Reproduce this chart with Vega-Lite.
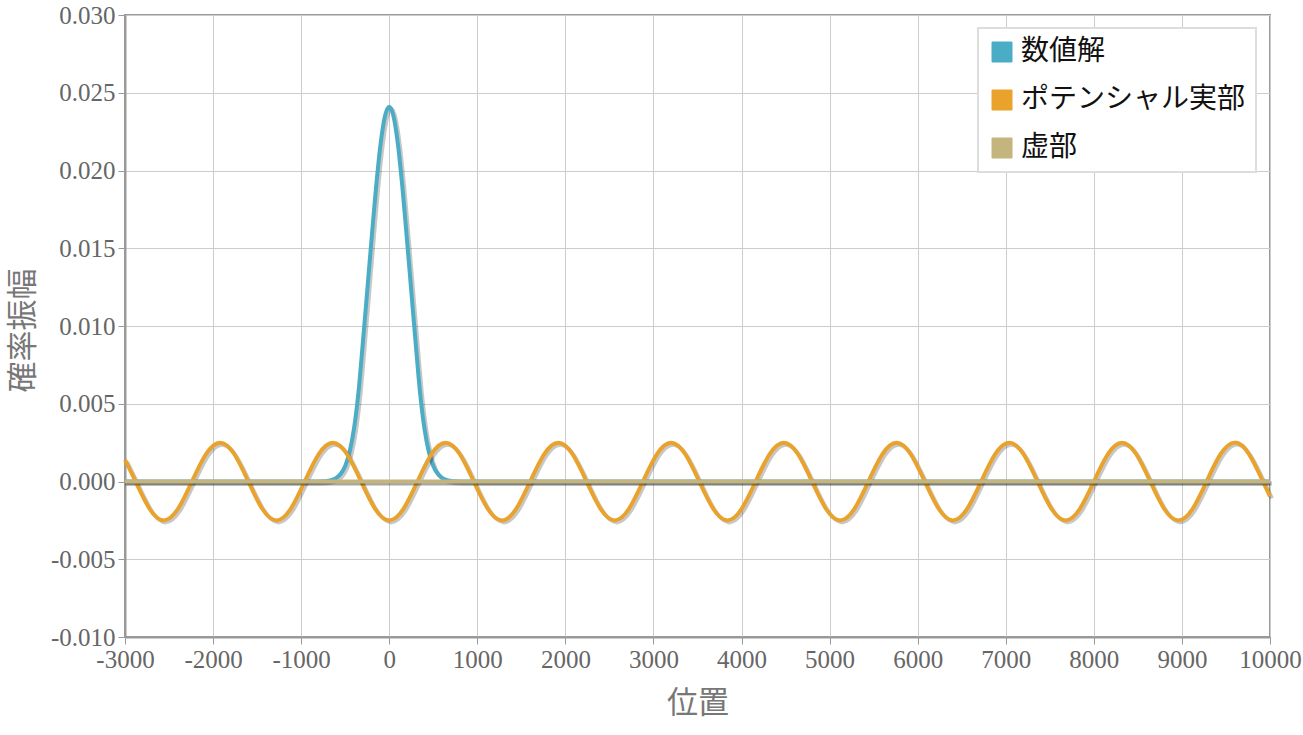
{
  "$schema": "https://vega.github.io/schema/vega-lite/v6.json",
  "width": 1145,
  "height": 622,
  "autosize": "none",
  "padding": {"left": 125, "top": 15, "right": 33, "bottom": 98},
  "background": "white",
  "config": {
    "view": {"stroke": "#999", "strokeWidth": 2},
    "axis": {
      "gridColor": "#cccccc",
      "gridWidth": 1,
      "domainColor": "#999",
      "domainWidth": 2,
      "tickColor": "#999",
      "tickWidth": 1,
      "tickSize": 7,
      "labelFont": "Liberation Serif, Times New Roman, DejaVu Serif, serif",
      "labelFontSize": 25,
      "labelColor": "#666",
      "labelFlush": false,
      "labelOverlap": false,
      "titleFont": "Noto Sans CJK JP",
      "titleFontSize": 31,
      "titleFontWeight": "normal",
      "titleColor": "#777"
    },
    "legend": {
      "labelFont": "Noto Sans CJK JP",
      "labelFontSize": 28,
      "labelColor": "#111",
      "labelLimit": 400,
      "strokeWidth": 2
    }
  },
  "datasets": {
    "num": [
      {"x": -3000, "y": 0},
      {"x": -1000, "y": 0},
      {"x": -800, "y": 0},
      {"x": -750, "y": 0.00001},
      {"x": -700, "y": 0.00004},
      {"x": -650, "y": 0.0001},
      {"x": -600, "y": 0.00024},
      {"x": -550, "y": 0.0005},
      {"x": -500, "y": 0.001},
      {"x": -450, "y": 0.0019},
      {"x": -400, "y": 0.0034},
      {"x": -350, "y": 0.0057},
      {"x": -300, "y": 0.0089},
      {"x": -250, "y": 0.01226},
      {"x": -200, "y": 0.01564},
      {"x": -150, "y": 0.01889},
      {"x": -100, "y": 0.02163},
      {"x": -50, "y": 0.02346},
      {"x": 0, "y": 0.0241},
      {"x": 50, "y": 0.02346},
      {"x": 100, "y": 0.02163},
      {"x": 150, "y": 0.01889},
      {"x": 200, "y": 0.01564},
      {"x": 250, "y": 0.01226},
      {"x": 300, "y": 0.0089},
      {"x": 350, "y": 0.0057},
      {"x": 400, "y": 0.0034},
      {"x": 450, "y": 0.0019},
      {"x": 500, "y": 0.001},
      {"x": 550, "y": 0.0005},
      {"x": 600, "y": 0.00024},
      {"x": 650, "y": 0.0001},
      {"x": 700, "y": 0.00004},
      {"x": 750, "y": 0.00001},
      {"x": 800, "y": 0},
      {"x": 1000, "y": 0},
      {"x": 10000, "y": 0}
    ],
    "pot": [
      {"x": -3000, "y": 0.00139},
      {"x": -2880, "y": 0},
      {"x": -2720, "y": -0.00177},
      {"x": -2560, "y": -0.0025},
      {"x": -2400, "y": -0.00177},
      {"x": -2240, "y": 0},
      {"x": -2080, "y": 0.00177},
      {"x": -1920, "y": 0.0025},
      {"x": -1760, "y": 0.00177},
      {"x": -1600, "y": 0},
      {"x": -1440, "y": -0.00177},
      {"x": -1280, "y": -0.0025},
      {"x": -1120, "y": -0.00177},
      {"x": -960, "y": 0},
      {"x": -800, "y": 0.00177},
      {"x": -640, "y": 0.0025},
      {"x": -480, "y": 0.00177},
      {"x": -320, "y": 0},
      {"x": -160, "y": -0.00177},
      {"x": 0, "y": -0.0025},
      {"x": 160, "y": -0.00177},
      {"x": 320, "y": 0},
      {"x": 480, "y": 0.00177},
      {"x": 640, "y": 0.0025},
      {"x": 800, "y": 0.00177},
      {"x": 960, "y": 0},
      {"x": 1120, "y": -0.00177},
      {"x": 1280, "y": -0.0025},
      {"x": 1440, "y": -0.00177},
      {"x": 1600, "y": 0},
      {"x": 1760, "y": 0.00177},
      {"x": 1920, "y": 0.0025},
      {"x": 2080, "y": 0.00177},
      {"x": 2240, "y": 0},
      {"x": 2400, "y": -0.00177},
      {"x": 2560, "y": -0.0025},
      {"x": 2720, "y": -0.00177},
      {"x": 2880, "y": 0},
      {"x": 3040, "y": 0.00177},
      {"x": 3200, "y": 0.0025},
      {"x": 3360, "y": 0.00177},
      {"x": 3520, "y": 0},
      {"x": 3680, "y": -0.00177},
      {"x": 3840, "y": -0.0025},
      {"x": 4000, "y": -0.00177},
      {"x": 4160, "y": 0},
      {"x": 4320, "y": 0.00177},
      {"x": 4480, "y": 0.0025},
      {"x": 4640, "y": 0.00177},
      {"x": 4800, "y": 0},
      {"x": 4960, "y": -0.00177},
      {"x": 5120, "y": -0.0025},
      {"x": 5280, "y": -0.00177},
      {"x": 5440, "y": 0},
      {"x": 5600, "y": 0.00177},
      {"x": 5760, "y": 0.0025},
      {"x": 5920, "y": 0.00177},
      {"x": 6080, "y": 0},
      {"x": 6240, "y": -0.00177},
      {"x": 6400, "y": -0.0025},
      {"x": 6560, "y": -0.00177},
      {"x": 6720, "y": 0},
      {"x": 6880, "y": 0.00177},
      {"x": 7040, "y": 0.0025},
      {"x": 7200, "y": 0.00177},
      {"x": 7360, "y": 0},
      {"x": 7520, "y": -0.00177},
      {"x": 7680, "y": -0.0025},
      {"x": 7840, "y": -0.00177},
      {"x": 8000, "y": 0},
      {"x": 8160, "y": 0.00177},
      {"x": 8320, "y": 0.0025},
      {"x": 8480, "y": 0.00177},
      {"x": 8640, "y": 0},
      {"x": 8800, "y": -0.00177},
      {"x": 8960, "y": -0.0025},
      {"x": 9120, "y": -0.00177},
      {"x": 9280, "y": 0},
      {"x": 9440, "y": 0.00177},
      {"x": 9600, "y": 0.0025},
      {"x": 9760, "y": 0.00177},
      {"x": 9920, "y": 0},
      {"x": 10000, "y": -0.00096}
    ],
    "imag": [
      {"x": -3000, "y": 0},
      {"x": 10000, "y": 0}
    ]
  },
  "encoding": {
    "x": {
      "field": "x",
      "type": "quantitative",
      "scale": {"domain": [-3000, 10000], "nice": false, "zero": false},
      "axis": {
        "title": "位置",
        "values": [-3000, -2000, -1000, 0, 1000, 2000, 3000, 4000, 5000, 6000, 7000, 8000, 9000, 10000],
        "labelExpr": "replace(format(datum.value, 'd'), '−', '-')",
        "labelPadding": 3,
        "titleY": 66,
        "titleBaseline": "middle"
      }
    },
    "y": {
      "field": "y",
      "type": "quantitative",
      "scale": {"domain": [-0.01, 0.03], "nice": false, "zero": false},
      "axis": {
        "title": "確率振幅",
        "values": [-0.01, -0.005, 0, 0.005, 0.01, 0.015, 0.02, 0.025, 0.03],
        "labelExpr": "replace(format(datum.value, '.3f'), '−', '-')",
        "labelPadding": 3,
        "titleX": -102,
        "titleY": 315,
        "titleBaseline": "middle"
      }
    }
  },
  "layer": [
    {
      "data": {"name": "num"},
      "mark": {"type": "line", "interpolate": "monotone", "stroke": "#000", "strokeOpacity": 0.22, "strokeWidth": 4, "xOffset": 2, "yOffset": 2}
    },
    {
      "data": {"name": "num"},
      "mark": {"type": "line", "interpolate": "monotone", "strokeWidth": 4},
      "encoding": {
        "color": {
          "datum": "数値解",
          "type": "nominal",
          "scale": {"domain": ["数値解", "ポテンシャル実部", "虚部"], "range": ["#4BACC6", "#E9A22B", "#C4B47E"]},
          "legend": {
            "title": null,
            "orient": "none",
            "legendX": 853,
            "legendY": 13,
            "symbolType": "square",
            "symbolSize": 400,
            "symbolStrokeColor": "#cccccc",
            "symbolStrokeWidth": 1,
            "symbolOpacity": 1,
            "rowPadding": 20,
            "labelOffset": 5,
            "padding": 10,
            "strokeColor": "#dddddd",
            "fillColor": "white",
            "encode": {
              "symbols": {
                "update": {
                  "fill": {"scale": "color", "field": "value"},
                  "stroke": {"value": "#cccccc"},
                  "strokeWidth": {"value": 1},
                  "fillOpacity": {"value": 1}
                }
              }
            }
          }
        }
      }
    },
    {
      "data": {"name": "pot"},
      "mark": {"type": "line", "interpolate": "natural", "stroke": "#000", "strokeOpacity": 0.22, "strokeWidth": 4, "xOffset": 2, "yOffset": 2}
    },
    {
      "data": {"name": "pot"},
      "mark": {"type": "line", "interpolate": "natural", "strokeWidth": 4},
      "encoding": {"color": {"datum": "ポテンシャル実部", "type": "nominal"}}
    },
    {
      "data": {"name": "imag"},
      "mark": {"type": "line", "stroke": "#000", "strokeOpacity": 0.35, "strokeWidth": 4, "yOffset": 2}
    },
    {
      "data": {"name": "imag"},
      "mark": {"type": "line", "strokeWidth": 4},
      "encoding": {"color": {"datum": "虚部", "type": "nominal"}}
    }
  ]
}
